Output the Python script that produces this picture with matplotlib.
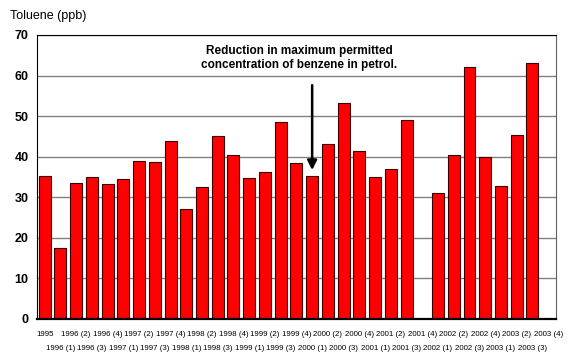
import numpy as np
import matplotlib
matplotlib.use("Agg")
from matplotlib import pyplot as plt

plt.rcParams['font.family'] = ['Liberation Sans', 'DejaVu Sans']

# quarter labels, first one is just the year
quarters = ['1995'] + ['%d (%d)' % (y, q) for y in range(1996, 2004) for q in range(1, 5)]
toluene = [35.2, 17.5, 33.5, 35.0, 33.2, 34.5, 39.0, 38.7, 43.8, 27.2,
           32.5, 45.2, 40.5, 34.8, 36.3, 48.5, 38.5, 35.3, 43.0, 53.3,
           41.3, 35.0, 37.0, 49.0, np.nan, 31.0, 40.5, 62.0, 40.0, 32.7,
           45.3, 63.0, np.nan]
yticks = [0, 10, 20, 30, 40, 50, 60, 70]
note = "Reduction in maximum permitted\nconcentration of benzene in petrol."
note_idx = quarters.index('2000 (1)')

fig = plt.figure(figsize=(5.75, 3.64), dpi=100)
ax = fig.add_axes([0.064, 0.124, 0.903, 0.780])

x = np.arange(len(quarters))
ax.bar(x, toluene, width=0.76, color='#ff0000', edgecolor='#3a0000',
       linewidth=0.8, zorder=3)

ax.set_xlim(-0.5, len(quarters) - 0.5)
ax.set_ylim(0, 70)
ax.set_yticks(yticks)
ax.set_yticklabels([str(t) for t in yticks], fontweight='bold', fontsize=9)
ax.yaxis.grid(True, color='#808080', linewidth=1, zorder=0)
ax.set_axisbelow(True)

# two staggered rows of tick labels: even slots on major, odd on minor
ax.set_xticks(x[::2])
ax.set_xticklabels(quarters[::2], fontsize=5.7)
ax.set_xticks(x[1::2], minor=True)
ax.set_xticklabels(quarters[1::2], minor=True, fontsize=5.7)
ax.tick_params(axis='x', which='major', length=0, pad=9)
ax.tick_params(axis='x', which='minor', length=0, pad=19)
ax.tick_params(axis='y', length=0, pad=6)

for s in ['left', 'top', 'bottom']:
    ax.spines[s].set_color('black')
ax.spines['bottom'].set_linewidth(1.6)
ax.spines['bottom'].set_zorder(4)
ax.spines['right'].set_color('#606060')

ax.annotate('', xy=(note_idx, 36.0), xytext=(note_idx, 58.3),
            arrowprops=dict(arrowstyle='-|>', color='black', lw=1.8,
                            mutation_scale=14), zorder=5)
ax.text(16.2, 64.4, note, ha='center', va='center', fontsize=8.5,
        fontweight='bold', linespacing=1.2, zorder=6,
        bbox=dict(boxstyle='square,pad=0.35', facecolor='white', edgecolor='none'))

fig.text(0.017, 0.955, 'Toluene (ppb)', fontsize=9, ha='left', va='center')

fig.savefig('out.png', dpi=100)
